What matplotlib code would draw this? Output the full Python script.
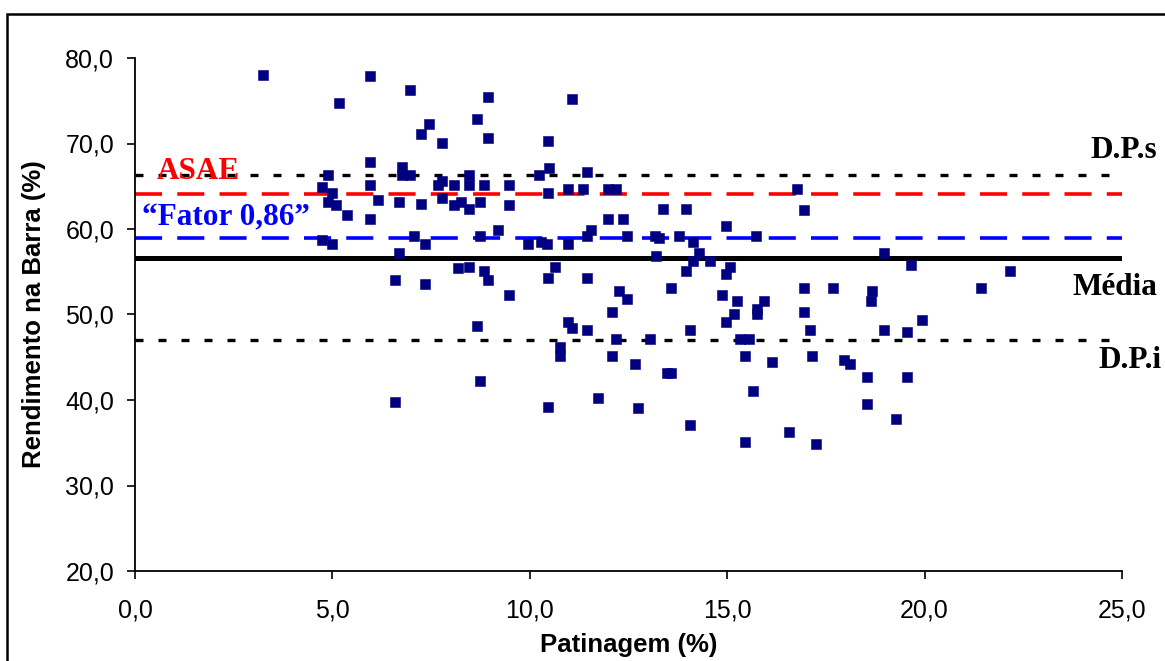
import matplotlib
matplotlib.use("Agg")
import matplotlib.pyplot as plt
import matplotlib.ticker as ticker
from matplotlib.patches import Rectangle

plt.rcParams['font.family'] = ['Liberation Sans', 'DejaVu Sans']

# --- data ---
patinagem = [
    3.25, 5.95, 6.97, 5.17, 8.94, 11.06, 7.45, 7.25, 8.65, 8.94,
    7.78, 10.45, 5.95, 6.77, 6.77, 6.97, 4.89, 4.74, 4.98, 4.89,
    5.08, 5.37, 5.95, 5.95, 6.15, 6.68, 7.25, 7.78, 7.68, 7.78,
    8.07, 8.07, 8.27, 8.46, 8.46, 8.46, 8.85, 8.75, 9.47, 9.47,
    9.19, 10.24, 10.45, 10.48, 10.97, 11.35, 11.45, 11.98, 12.18, 13.37,
    13.96, 11.98, 12.36, 11.55, 14.97, 4.74, 4.98, 7.06, 7.35, 6.68,
    8.75, 9.95, 10.29, 10.43, 8.17, 8.46, 8.85, 8.94, 6.58, 7.35,
    9.47, 8.65, 8.75, 6.58, 10.45, 10.45, 10.97, 11.45, 12.46, 13.17,
    13.27, 13.77, 14.14, 14.29, 14.14, 14.57, 15.74, 13.19, 10.63, 11.45,
    13.96, 15.07, 14.97, 12.27, 12.46, 13.57, 14.88, 15.26, 15.94, 15.75,
    15.75, 15.16, 14.97, 12.07, 10.97, 11.06, 11.45, 14.06, 10.77, 10.77,
    12.18, 13.04, 15.33, 15.55, 12.07, 12.66, 13.47, 13.58, 15.45, 16.13,
    15.65, 11.74, 12.75, 14.06, 15.45, 16.76, 16.95, 18.98, 19.65, 22.16,
    16.95, 17.67, 18.68, 18.63, 21.43, 16.95, 17.10, 18.98, 19.55, 19.94,
    17.14, 17.96, 18.10, 18.53, 19.55, 18.53, 19.27, 16.56, 17.24,
]
rendimento = [
    78.0, 77.9, 76.3, 74.7, 75.4, 75.2, 72.3, 71.1, 72.9, 70.7,
    70.1, 70.3, 67.8, 67.2, 66.3, 66.3, 66.3, 64.95, 64.25, 63.2,
    62.8, 61.6, 65.1, 61.2, 63.4, 63.2, 62.9, 65.6, 65.15, 63.6,
    65.1, 62.8, 63.2, 66.3, 65.1, 62.3, 65.1, 63.2, 65.1, 62.8,
    59.9, 66.3, 64.25, 67.1, 64.7, 64.7, 66.7, 64.7, 64.7, 62.3,
    62.3, 61.2, 61.2, 59.9, 60.3, 58.7, 58.25, 59.2, 58.25, 57.15,
    59.2, 58.25, 58.5, 58.25, 55.4, 55.6, 55.1, 54.0, 54.0, 53.6,
    52.25, 48.65, 42.2, 39.8, 39.15, 54.25, 58.25, 59.2, 59.2, 59.2,
    58.95, 59.2, 58.5, 57.15, 56.2, 56.2, 59.2, 56.9, 55.6, 54.3,
    55.1, 55.6, 54.7, 52.7, 51.8, 53.15, 52.25, 51.6, 51.6, 50.7,
    50.1, 50.0, 49.1, 50.25, 49.1, 48.45, 48.2, 48.2, 46.2, 45.15,
    47.1, 47.1, 47.1, 47.1, 45.1, 44.2, 43.1, 43.1, 45.1, 44.4,
    41.1, 40.2, 39.1, 37.1, 35.1, 64.7, 62.2, 57.15, 55.8, 55.1,
    53.1, 53.1, 52.7, 51.6, 53.1, 50.25, 48.2, 48.2, 48.0, 49.35,
    45.1, 44.7, 44.25, 42.65, 42.65, 39.5, 37.75, 36.2, 34.85,
]

media = 56.6
dp_sup = 66.3
dp_inf = 47.0
asae = 64.1
fator = 59.0

W, H = 1165, 661
fig = plt.figure(figsize=(W / 100, H / 100), dpi=100)
ax = fig.add_axes([135 / W, 1 - 571 / H, (1122 - 135) / W, (571 - 58) / H])

# outer chart frame
fig.patches.append(Rectangle((7 / W, -0.05), 1.1, 1 - 14 / H + 0.05,
                             transform=fig.transFigure, fill=False,
                             edgecolor='black', linewidth=1.8))

# reference lines
ax.axhline(dp_sup, color='black', lw=2.4, dashes=(2.4, 4.5))
ax.axhline(asae, color='#ff0000', lw=2.6, dashes=(7.5, 4.2))
ax.axhline(fator, color='#0000ff', lw=2.6, dashes=(7.5, 4.2))
ax.axhline(media, color='black', lw=3.6)
ax.axhline(dp_inf, color='black', lw=2.4, dashes=(2.4, 4.5))

ax.scatter(patinagem, rendimento, marker='s', s=60, color='#000080',
           edgecolors='#000080', linewidths=0.4, zorder=3)

ax.set_xlim(0, 25)
ax.set_ylim(20, 80)
ax.xaxis.set_major_locator(ticker.MultipleLocator(5))
ax.yaxis.set_major_locator(ticker.MultipleLocator(10))
fmt = ticker.FuncFormatter(lambda v, p: f'{v:.1f}'.replace('.', ','))
ax.xaxis.set_major_formatter(fmt)
ax.yaxis.set_major_formatter(fmt)
ax.tick_params(direction='out', length=6, width=1.2, labelsize=18)
ax.tick_params(axis='x', pad=14)
ax.tick_params(axis='y', pad=9)

for side in ('top', 'right'):
    ax.spines[side].set_visible(False)
for side in ('left', 'bottom'):
    ax.spines[side].set_linewidth(1.3)

ax.set_xlabel('Patinagem (%)', fontsize=18.5, fontweight='bold')
ax.set_ylabel('Rendimento na Barra (%)', fontsize=18.5, fontweight='bold')
ax.xaxis.set_label_coords(0.5, -0.12)
ax.yaxis.set_label_coords(-0.09, 0.5)

serif = ['Liberation Serif', 'DejaVu Serif']
ax.text(0.55, 66.7, 'ASAE', color='#ff0000', fontsize=22.5, fontweight='bold',
        family=serif, va='center', ha='left')
ax.text(0.17, 61.3, '\u201cFator 0,86\u201d', color='#0000ff', fontsize=22.5,
        fontweight='bold', family=serif, va='center', ha='left')
ax.text(25.9, 69.2, 'D.P.s', fontsize=22.5, fontweight='bold', family=serif,
        va='center', ha='right', clip_on=False)
ax.text(25.9, 53.1, 'Média', fontsize=22.5, fontweight='bold', family=serif,
        va='center', ha='right', clip_on=False)
ax.text(26.0, 44.6, 'D.P.i', fontsize=22.5, fontweight='bold', family=serif,
        va='center', ha='right', clip_on=False)

fig.savefig('out.png', dpi=100)
